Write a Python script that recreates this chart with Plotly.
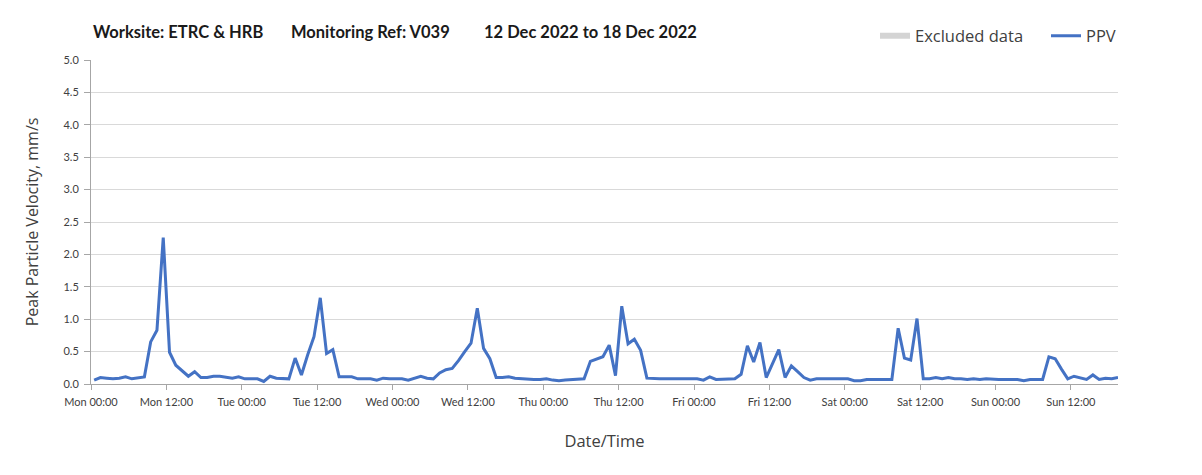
import pandas as pd
import plotly.graph_objects as go

# ---- data ----
start_time = "2022-12-12 00:30"
ppv = [
    0.06, 0.10, 0.09, 0.08, 0.09, 0.11, 0.08, 0.09, 0.11,
    0.65, 0.83, 2.26,
    0.49, 0.29, 0.21, 0.12, 0.19, 0.10, 0.10, 0.12, 0.12,
    0.10, 0.09, 0.11, 0.08, 0.08, 0.08, 0.04, 0.12, 0.09, 0.08, 0.08,
    0.40, 0.14, 0.45, 0.73, 1.33, 0.47, 0.53,
    0.11, 0.11, 0.11, 0.08, 0.08, 0.08, 0.06, 0.09, 0.08, 0.08, 0.08, 0.06, 0.09, 0.12, 0.09, 0.08,
    0.17, 0.22, 0.24, 0.36, 0.50, 0.63, 1.17, 0.55, 0.39,
    0.10, 0.10, 0.11, 0.09, 0.08, 0.08, 0.07, 0.07, 0.08, 0.06, 0.05, 0.06, 0.07, 0.07, 0.08,
    0.35, 0.39, 0.42, 0.60, 0.13, 1.20, 0.62, 0.69, 0.52,
    0.09, 0.08, 0.08, 0.08, 0.08, 0.07, 0.07, 0.08, 0.08, 0.06, 0.11, 0.07, 0.07, 0.07, 0.08, 0.15,
    0.59, 0.34, 0.64, 0.10, 0.31, 0.53, 0.10, 0.28, 0.19, 0.10,
    0.06, 0.08, 0.08, 0.08, 0.08, 0.08, 0.08, 0.05, 0.05, 0.07, 0.07, 0.07, 0.07, 0.07,
    0.86, 0.40, 0.37, 1.01,
    0.08, 0.08, 0.10, 0.08, 0.10, 0.08, 0.08, 0.07, 0.08, 0.07, 0.08, 0.07, 0.07, 0.07, 0.07, 0.07, 0.05, 0.07, 0.07, 0.07,
    0.42, 0.39, 0.23, 0.08, 0.12, 0.09, 0.07, 0.14, 0.07, 0.09, 0.08, 0.10,
]
times = pd.date_range(start_time, periods=len(ppv), freq="h")
x_range = ["2022-12-12 00:00", "2022-12-18 19:30"]
y_range = [0, 5.0]

title_parts = ["Worksite: ETRC & HRB", "Monitoring Ref: V039", "12 Dec 2022 to 18 Dec 2022"]

# ---- layout geometry (page pixels; page body has an 8px margin) ----
W, H = 1202, 475
OFF = 8
PL, PR, PT, PB = 91, 1118, 60, 384
L, T = PL - OFF, PT - OFF
R, B = W - (PR - OFF), H - (PB - OFF)
pw, ph = PR - PL, PB - PT


def px_x(px):
    return (px - PL) / pw


def px_y(py):
    return (PB - py) / ph


fig = go.Figure()
fig.add_trace(go.Scatter(
    x=[None], y=[None], name="Excluded data", mode="none",
    fill="toself", fillcolor="#d4d4d4", showlegend=True, legend="legend",
))
fig.add_trace(go.Scatter(
    x=times, y=ppv, name="PPV", mode="lines",
    line=dict(color="#4472C4", width=3), legend="legend2",
))

tick_font = dict(family="Lato, Calibri, sans-serif", size=11, color="#404040")
title_font = dict(family="Open Sans, sans-serif", size=16, color="#404040")
legend_font = dict(family="Open Sans, sans-serif", size=16.5, color="#404040")
grid_c = "#d9d9d9"
axis_c = "#a6a6a6"

fig.update_layout(
    width=W, height=H,
    margin=dict(l=L, r=R, t=T, b=B, autoexpand=False),
    paper_bgcolor="white", plot_bgcolor="white",
    showlegend=True,
    legend=dict(
        orientation="h", xanchor="left", yanchor="middle",
        x=px_x(875), y=px_y(36), font=legend_font,
        itemwidth=30, bgcolor="rgba(0,0,0,0)",
    ),
    legend2=dict(
        orientation="h", xanchor="left", yanchor="middle",
        x=px_x(1046), y=px_y(36), font=legend_font,
        itemwidth=30, bgcolor="rgba(0,0,0,0)",
    ),
    xaxis=dict(
        type="date", range=x_range,
        dtick=12 * 3600 * 1000, tick0="2022-12-12 00:00",
        tickformat="%a %H:%M",
        ticks="outside", ticklen=5, tickcolor=axis_c,
        showline=True, linecolor=axis_c, linewidth=1,
        showgrid=False, zeroline=False,
        tickfont=tick_font, ticklabelstandoff=3,
        title=dict(text="Date/Time", standoff=28,
                   font=dict(family="Open Sans, sans-serif", size=16.5, color="#404040")),
    ),
    xaxis2=dict(
        type="date", range=x_range, overlaying="x", matches="x",
        dtick=24 * 3600 * 1000, tick0="2022-12-12 00:00",
        showgrid=True, gridcolor=grid_c, gridwidth=1,
        showticklabels=False, ticks="", showline=False, zeroline=False,
    ),
    yaxis=dict(
        range=y_range, dtick=0.5, tickformat=".1f",
        ticks="outside", ticklen=6, tickcolor=axis_c,
        showline=True, linecolor=axis_c, linewidth=1,
        showgrid=True, gridcolor=grid_c, gridwidth=1, zeroline=False,
        tickfont=dict(family="Lato, Calibri, sans-serif", size=11, color="#404040"),
        ticklabelstandoff=3,
        title=dict(text="Peak Particle Velocity, mm/s", standoff=20, font=title_font),
    ),
)

title_x_px = [91, 289, 482]
for txt, xp in zip(title_parts, title_x_px):
    fig.add_annotation(
        text=f"<b>{txt}</b>", xref="paper", yref="paper",
        x=px_x(xp), y=px_y(32), xanchor="left", yanchor="middle",
        showarrow=False,
        font=dict(family="Lato, Calibri, sans-serif", size=16.5, color="#1a1a1a"),
    )

fig.write_html("out.html")
